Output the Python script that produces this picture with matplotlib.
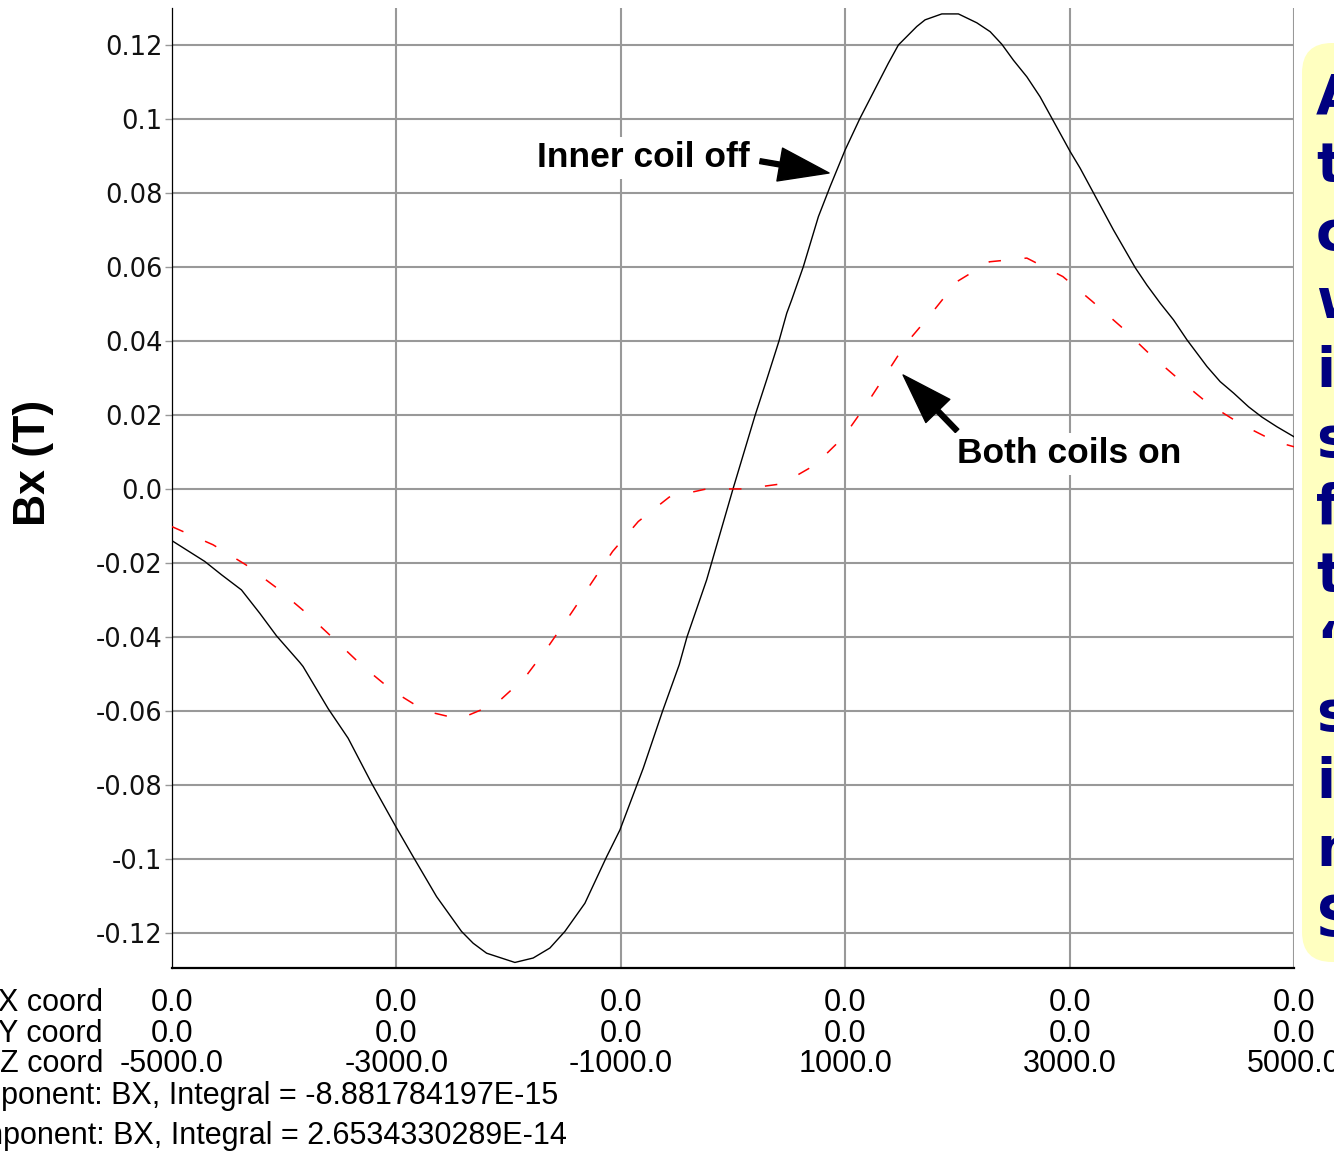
import matplotlib
matplotlib.use('Agg')
import matplotlib.pyplot as plt
from matplotlib.patches import FancyBboxPatch
from matplotlib.transforms import blended_transform_factory

plt.rcParams['font.family'] = 'DejaVu Sans'
plt.rcParams['lines.scale_dashes'] = False

W, H = 1334, 1154

# Bx along the axis (x = y = 0), inner coil switched off
z_off = [-5000, -4708, -4559, -4381, -4218, -4069, -3861, -3832, -3608,
         -3430, -3222, -3005, -2851, -2642, -2420, -2316, -2196, -1944, -1781,
         -1632, -1498, -1320, -1126, -1008, -800, -627, -479, -410,
         -235, 0, 196, 300, 410, 479, 523, 627, 761,
         865, 999, 1132, 1385, 1474, 1638, 1712, 1861, 2009, 2173, 2292, 2396,
         2499, 2619, 2737, 2842, 3005, 3094, 3391, 3585, 3689, 3808, 3926,
         4046, 4224, 4342, 4462, 4595, 4715, 4848, 5000]
bx_off = [-0.0140, -0.0196, -0.0232, -0.0273, -0.0336, -0.0397,
          -0.0469, -0.0480, -0.0594, -0.0674, -0.0795, -0.0913, -0.0994,
          -0.1102, -0.1196, -0.1228, -0.1255, -0.1280, -0.1268, -0.1241,
          -0.1196, -0.1120, -0.0994, -0.0922, -0.0755, -0.0600,
          -0.0475, -0.0400, -0.0246, 0.0,
          0.0198, 0.0295, 0.0400, 0.0475, 0.0511, 0.0601, 0.0736, 0.0817,
          0.0916, 0.1002, 0.1151, 0.1200, 0.1250, 0.1268, 0.1284, 0.1284,
          0.1260, 0.1236, 0.1202, 0.1159, 0.1114, 0.1060, 0.1002, 0.0912,
          0.0867, 0.0700, 0.0598, 0.0551, 0.0502, 0.0457, 0.0403, 0.0331,
          0.0290, 0.0259, 0.0222, 0.0194, 0.0168, 0.0141]

# Bx along the axis, both coils on
z_on = [-5000, -4634, -4342, -4069, -3801, -3555, -3305, -3038, -2746, -2440,
        -2108, -1855, -1647, -1440, -1230, -1073, -844, -568, -235, 101, 440,
        732, 984, 1186, 1370, 1534, 1757, 1994, 2286, 2619, 2940, 3198, 3457,
        3712, 3971, 4238, 4527, 4833, 5000]
bx_on = [-0.0102, -0.0151, -0.0205, -0.0267, -0.0336, -0.0406, -0.0478,
         -0.0545, -0.0600, -0.0622, -0.0580, -0.0510, -0.0426, -0.0335,
         -0.0240, -0.0169, -0.0088, -0.0022, 0.0, 0.0, 0.0014, 0.0065, 0.0140,
         0.0227, 0.0313, 0.0390, 0.0470, 0.0560, 0.0614, 0.0624, 0.0574,
         0.0508, 0.0439, 0.0365, 0.0297, 0.0230, 0.0175, 0.0128, 0.0114]

y_ticks = [0.12, 0.10, 0.08, 0.06, 0.04, 0.02, 0.0,
           -0.02, -0.04, -0.06, -0.08, -0.10, -0.12]
y_tick_labels = ['0.12', '0.1', '0.08', '0.06', '0.04', '0.02', '0.0',
                 '-0.02', '-0.04', '-0.06', '-0.08', '-0.1', '-0.12']
z_grid = [-3000, -1000, 1000, 3000, 5000]

# coordinate table printed under the plot
z_stations = [-5000, -3000, -1000, 1000, 3000, 5000]
x_coords = [0.0, 0.0, 0.0, 0.0, 0.0, 0.0]
y_coords = [0.0, 0.0, 0.0, 0.0, 0.0, 0.0]
row_names = ['X coord', 'Y coord', 'Z coord']
integrals = ['-8.881784197E-15', '2.6534330289E-14']

note_lines = ['A', 't', 'c', 'w', 'i', 's', 'f', 't', '\u201c',
              's', 'i', 'n', 'S']

fig = plt.figure(figsize=(W / 100, H / 100), dpi=100)
fig.patch.set_facecolor('white')

ax = fig.add_axes([172 / W, 1 - 968 / H, (1294 - 172) / W, (968 - 8) / H])
ax.set_xlim(-5000, 5000)
ax.set_ylim(-0.1295, 0.130)

ax.plot(z_off, bx_off, color='black', lw=1.0, zorder=3)
ax.plot(z_on, bx_on, color='red', lw=1.1, dashes=(9, 17), zorder=3)

ax.set_yticks(y_ticks, labels=y_tick_labels)
ax.set_xticks(z_grid, labels=[''] * len(z_grid))
ax.tick_params(axis='y', length=5, width=1, color='#999999',
               labelsize=18.5, pad=2, labelcolor='#111111')
ax.tick_params(axis='x', length=0)
ax.grid(True, color='#999999', lw=1.5)
ax.set_axisbelow(True)

for side in ('top', 'right'):
    ax.spines[side].set_visible(False)
ax.spines['left'].set_linewidth(0.9)
ax.spines['bottom'].set_linewidth(1.6)

fig.text(33 / W, 1 - 463 / H, 'Bx (T)', rotation=90, fontsize=32,
         fontweight='bold', family='Liberation Sans', ha='center', va='center')

# callouts
head = dict(facecolor='black', edgecolor='black', width=3.5,
            headwidth=24, headlength=36, shrink=0)
ax.annotate('', xy=(856, 0.0854), xytext=(241, 0.0886), arrowprops=head, zorder=4)
ax.annotate('', xy=(1516, 0.0308), xytext=(1997, 0.0157), arrowprops=head, zorder=4)
label_box = dict(facecolor='white', edgecolor='none', pad=3)
ax.text(-803, 0.0895, 'Inner coil off', fontsize=25.5, fontweight='bold',
        family='Liberation Sans', ha='center', va='center', bbox=label_box, zorder=4)
ax.text(2996, 0.0095, 'Both coils on', fontsize=25.5, fontweight='bold',
        family='Liberation Sans', ha='center', va='center', bbox=label_box, zorder=4)

# pixel-space layer for the side note and the coordinate table
over = fig.add_axes([0, 0, 1, 1])
over.set_xlim(0, W)
over.set_ylim(H, 0)
over.axis('off')

note = FancyBboxPatch((1302, 43), 200, 919, boxstyle='round,pad=0,rounding_size=30',
                      facecolor='#FFFFC0', edgecolor='none')
over.add_patch(note)
for i, ch in enumerate(note_lines):
    over.text(1316, 113 + 68.5 * i, ch, fontsize=40, fontweight='bold',
              color='#000080', ha='left', va='baseline')

table_font = dict(family=['Liberation Sans Narrow', 'Liberation Sans'],
                  fontsize=22, color='black')
row_y = [1003, 1034, 1064]
col_trans = blended_transform_factory(ax.transData, over.transData)
for name, y in zip(row_names, row_y):
    over.text(103, y, name, ha='right', va='center', **table_font)
for z, xc, yc in zip(z_stations, x_coords, y_coords):
    for val, y in zip((xc, yc, z), row_y):
        over.text(z, y, f'{val:.1f}', transform=col_trans, ha='center',
                  va='center', **table_font)
over.text(558, 1096, 'Component: BX, Integral = ' + integrals[0],
          ha='right', va='center', **table_font)
over.text(567, 1136, 'Component: BX, Integral = ' + integrals[1],
          ha='right', va='center', **table_font)

fig.savefig('out.png', dpi=100, facecolor='white')
